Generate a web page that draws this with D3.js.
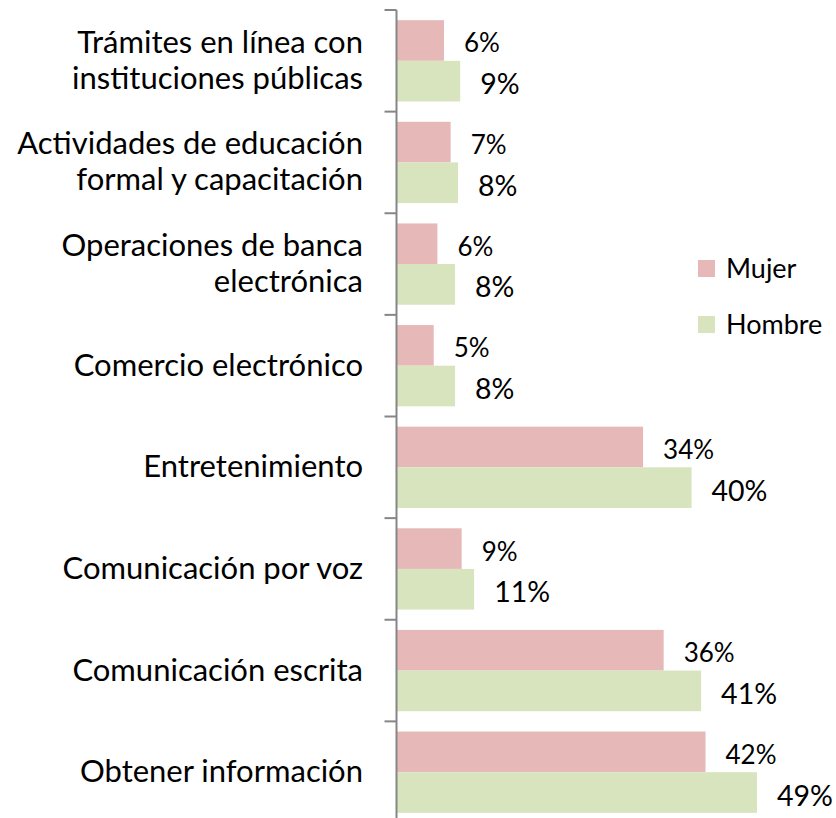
<!DOCTYPE html>
<html>
<head>
<meta charset="utf-8">
<script src="https://cdn.jsdelivr.net/npm/d3@7"></script>
<style>
  html, body { margin: 0; padding: 0; background: #fff; }
  svg { display: block; font-family: Lato, "Open Sans", sans-serif; }
</style>
</head>
<body>
<svg id="chart" width="836" height="818"></svg>
<script>
// ---- data (top to bottom) ----
const categories = [
  ["Trámites en línea con", "instituciones públicas"],
  ["Actividades de educación", "formal y capacitación"],
  ["Operaciones de banca", "electrónica"],
  ["Comercio electrónico"],
  ["Entretenimiento"],
  ["Comunicación por voz"],
  ["Comunicación escrita"],
  ["Obtener información"]
];
const seriesNames = ["Mujer", "Hombre"];
const mujerValues  = [6.4, 7.3, 5.5, 5.0, 33.5, 8.8, 36.3, 42.0];
const hombreValues = [8.6, 8.3, 7.9, 7.9, 40.1, 10.5, 41.4, 49.0];
const mujerLabels  = ["6%", "7%", "6%", "5%", "34%", "9%", "36%", "42%"];
const hombreLabels = ["9%", "8%", "8%", "8%", "40%", "11%", "41%", "49%"];
const colors = { Mujer: "#E6B9B8", Hombre: "#D7E4BD" };

const svg = d3.select("#chart");
const axisX = 396.5;
const keys = categories.map((c, i) => "c" + i);

const y = d3.scaleBand().domain(keys).range([10, 823]).padding(0);
const ySub = d3.scaleBand().domain(seriesNames).range([0, y.bandwidth()]).paddingInner(0).paddingOuter(0.25);
const x = d3.scaleLinear().domain([0, 50]).range([axisX + 0.5, axisX + 0.5 + 367.3]);

const rows = categories.map((c, i) => ({
  key: keys[i], lines: c,
  series: [
    { name: "Mujer", value: mujerValues[i], label: mujerLabels[i] },
    { name: "Hombre", value: hombreValues[i], label: hombreLabels[i] }
  ]
}));

// bars
const g = svg.append("g");
const row = g.selectAll("g.row").data(rows).join("g")
  .attr("class", "row")
  .attr("transform", d => `translate(0,${y(d.key)})`);

row.selectAll("rect").data(d => d.series).join("rect")
  .attr("x", x(0))
  .attr("y", d => ySub(d.name))
  .attr("width", d => x(d.value) - x(0))
  .attr("height", ySub.bandwidth())
  .attr("fill", d => colors[d.name]);

// data labels
row.selectAll("text.val").data(d => d.series).join("text")
  .attr("class", "val")
  .attr("x", d => x(d.value) + 20)
  .attr("y", d => ySub(d.name) + ySub.bandwidth() / 2 + (d.name === "Mujer" ? 12 : 13))
  .attr("font-size", d => d.name === "Mujer" ? 26 : 28.5)
  .attr("fill", "#000")
  .text(d => d.label);

// axis (left, ticks at band boundaries)
const axisG = svg.append("g");
axisG.append("line")
  .attr("x1", axisX).attr("x2", axisX)
  .attr("y1", y.range()[0]).attr("y2", 818)
  .attr("stroke", "#868686").attr("stroke-width", 2);
const boundaries = keys.map(k => y(k));
axisG.selectAll("line.tick").data(boundaries).join("line")
  .attr("class", "tick")
  .attr("x1", axisX - 12).attr("x2", axisX)
  .attr("y1", d => d).attr("y2", d => d)
  .attr("stroke", "#868686").attr("stroke-width", 2);

// category labels
const labG = svg.append("g");
const lab = labG.selectAll("text.cat").data(rows).join("text")
  .attr("class", "cat")
  .attr("text-anchor", "end")
  .attr("font-size", 31)
  .attr("fill", "#000");
lab.each(function(d) {
  const t = d3.select(this);
  const cy = y(d.key) + y.bandwidth() / 2 + 10;
  const n = d.lines.length;
  d.lines.forEach((line, j) => {
    t.append("tspan")
      .attr("x", 363)
      .attr("y", cy + (j - (n - 1) / 2) * 36)
      .text(line);
  });
});

// legend
const legend = svg.append("g");
const legY = d3.scalePoint().domain(seriesNames).range([260, 316]);
legend.selectAll("rect").data(seriesNames).join("rect")
  .attr("x", 698).attr("y", d => legY(d))
  .attr("width", 17).attr("height", 17)
  .attr("fill", d => colors[d]);
legend.selectAll("text").data(seriesNames).join("text")
  .attr("x", 726).attr("y", d => legY(d) + 18)
  .attr("font-size", 27)
  .attr("fill", "#000")
  .text(d => d);
</script>
</body>
</html>
